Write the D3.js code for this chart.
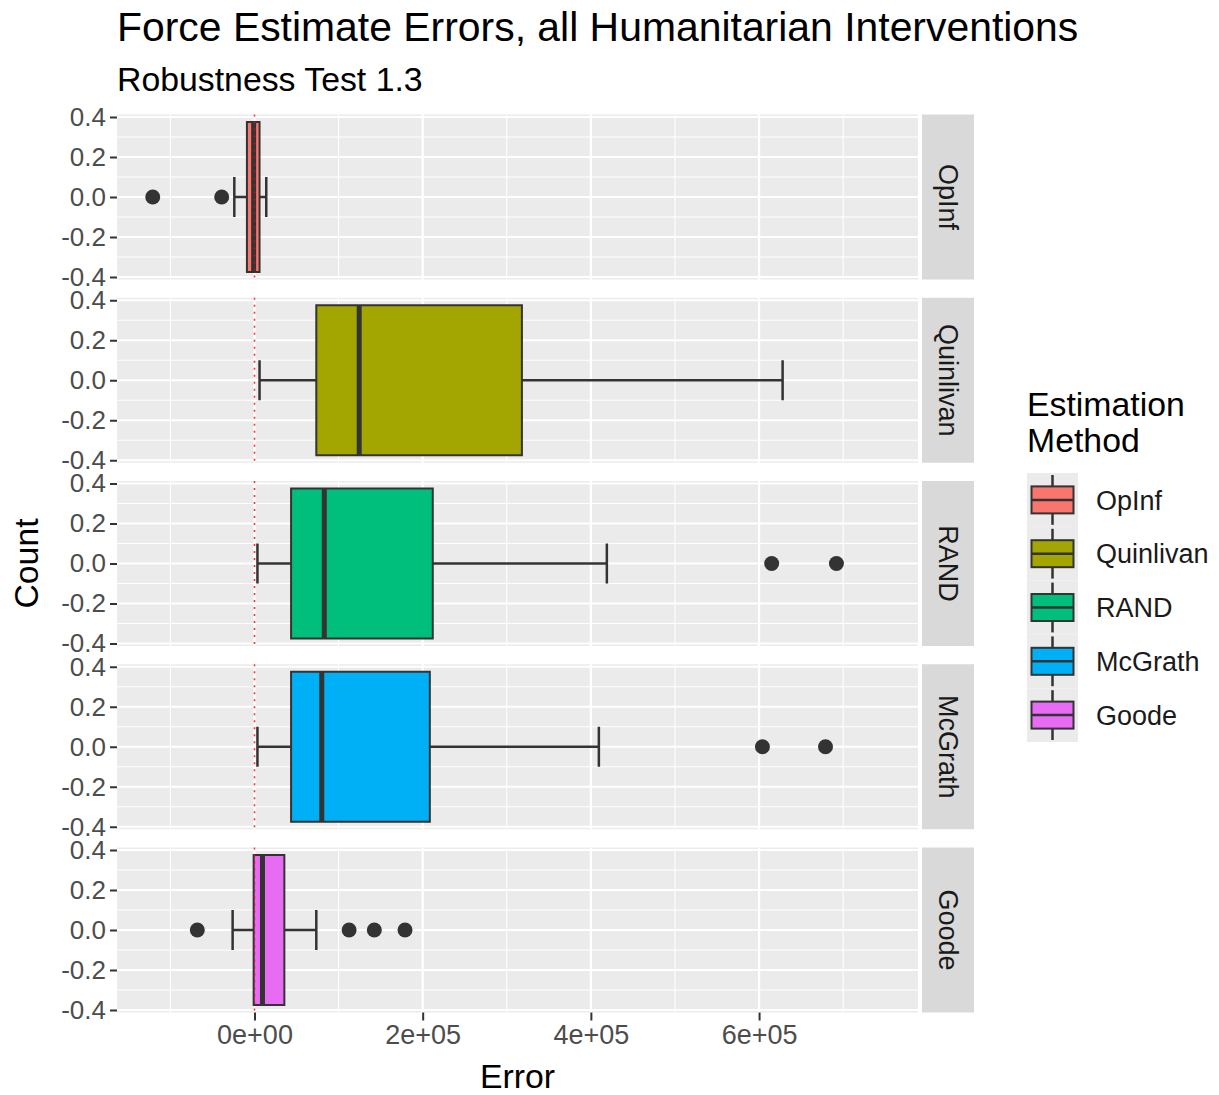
<!DOCTYPE html>
<html>
<head>
	<script src="https://d3js.org/d3.v7.min.js"></script>
	<meta charset="UTF-8">
	<style>
		body{
			margin: 0;
			background-color: #ffffff;
		}
		text{
			font-family: "Liberation Sans", Arial, sans-serif;
		}
	</style>
</head>
<body>
	<div class = 'chart'></div>
	<script type="text/javascript">
		//data
		var methods = ["OpInf", "Quinlivan", "RAND", "McGrath", "Goode"];
		var colors = ["#F8766D", "#A3A500", "#00BF7D", "#00B0F6", "#E76BF3"];
		var lowWhisker = [-24000, 6000, 3500, 3500, -26000];
		var q1 = [-9000, 73500, 43500, 43500, -1000];
		var medians = [-1000, 124500, 83000, 80000, 9500];
		var q3 = [6000, 318000, 212000, 208500, 35500];
		var highWhisker = [14000, 628000, 419000, 409500, 73500];
		var outliers = [[-121000, -39000], [], [615000, 692000], [604000, 679000], [-68000, 112500, 142500, 179000]];
		var xTicks = [0, 200000, 400000, 600000];
		var xTickLabels = ["0e+00", "2e+05", "4e+05", "6e+05"];
		var yTicks = [-0.4, -0.2, 0, 0.2, 0.4];
		var yTickLabels = ["-0.4", "-0.2", "0.0", "0.2", "0.4"];

		var W = 1219, H = 1095;
		var pl = 117, pr = 918;       //panel left/right
		var pTop = 114.5, pH = 165, pStep = 183.25;
		var stripL = 922, stripR = 974;

		var svg = d3.select("div.chart")
					.append("svg")
					.attr("width", W)
					.attr("height", H);

		var xScale = d3.scaleLinear()
						.domain([-163500, 789000])
						.range([pl, pr]);

		var yScale = d3.scaleLinear()
						.domain([-0.4125, 0.4125])
						.range([pH, 0]);

		var xMinor = [-100000, 100000, 300000, 500000, 700000];
		var yMinor = [-0.3, -0.1, 0.1, 0.3];

		methods.forEach(function(m, i){
			var g = svg.append("g").attr("transform", "translate(0," + (pTop + i*pStep) + ")");

			//panel background
			g.append("rect").attr("x", pl).attr("y", 0).attr("width", pr-pl).attr("height", pH).attr("fill", "#EBEBEB");

			//grid
			g.selectAll(".ymin").data(yMinor).enter().append("line")
				.attr("x1", pl).attr("x2", pr)
				.attr("y1", function(d){ return yScale(d); }).attr("y2", function(d){ return yScale(d); })
				.attr("stroke", "#ffffff").attr("stroke-width", 1.1);
			g.selectAll(".xmin").data(xMinor).enter().append("line")
				.attr("y1", 0).attr("y2", pH)
				.attr("x1", function(d){ return xScale(d); }).attr("x2", function(d){ return xScale(d); })
				.attr("stroke", "#ffffff").attr("stroke-width", 1.1);
			g.selectAll(".ymaj").data(yTicks).enter().append("line")
				.attr("x1", pl).attr("x2", pr)
				.attr("y1", function(d){ return yScale(d); }).attr("y2", function(d){ return yScale(d); })
				.attr("stroke", "#ffffff").attr("stroke-width", 2.2);
			g.selectAll(".xmaj").data(xTicks).enter().append("line")
				.attr("y1", 0).attr("y2", pH)
				.attr("x1", function(d){ return xScale(d); }).attr("x2", function(d){ return xScale(d); })
				.attr("stroke", "#ffffff").attr("stroke-width", 2.2);

			//y axis
			var yAxis = d3.axisLeft(yScale).tickValues(yTicks)
							.tickFormat(function(d, j){ return yTickLabels[j]; })
							.tickSize(7).tickPadding(4);
			var ya = g.append("g").attr("transform", "translate(" + pl + ",0)").call(yAxis);
			ya.select(".domain").remove();
			ya.selectAll("line").attr("stroke", "#333333").attr("stroke-width", 2);
			ya.selectAll("text").attr("fill", "#4D4D4D").style("font-size", "26px").attr("font-family", null);

			//strip
			g.append("rect").attr("x", stripL).attr("y", 0).attr("width", stripR-stripL).attr("height", pH).attr("fill", "#D9D9D9");
			g.append("text")
				.attr("transform", "translate(" + ((stripL+stripR)/2) + "," + (pH/2) + ") rotate(90)")
				.attr("text-anchor", "middle").attr("dy", "0.35em")
				.style("font-size", "27px").attr("fill", "#1A1A1A")
				.text(m);

			//whiskers
			var y0 = yScale(0);
			g.append("line").attr("x1", xScale(lowWhisker[i])).attr("x2", xScale(q1[i]))
				.attr("y1", y0).attr("y2", y0).attr("stroke", "#333333").attr("stroke-width", 2.5);
			g.append("line").attr("x1", xScale(q3[i])).attr("x2", xScale(highWhisker[i]))
				.attr("y1", y0).attr("y2", y0).attr("stroke", "#333333").attr("stroke-width", 2.5);
			[lowWhisker[i], highWhisker[i]].forEach(function(v){
				g.append("line").attr("x1", xScale(v)).attr("x2", xScale(v))
					.attr("y1", yScale(0.1)).attr("y2", yScale(-0.1))
					.attr("stroke", "#333333").attr("stroke-width", 2.5);
			});

			//box
			g.append("rect")
				.attr("x", xScale(q1[i])).attr("y", yScale(0.375))
				.attr("width", xScale(q3[i]) - xScale(q1[i]))
				.attr("height", yScale(-0.375) - yScale(0.375))
				.attr("fill", colors[i]).attr("stroke", "#333333").attr("stroke-width", 2);
			g.append("line").attr("x1", xScale(medians[i])).attr("x2", xScale(medians[i]))
				.attr("y1", yScale(0.375)).attr("y2", yScale(-0.375))
				.attr("stroke", "#333333").attr("stroke-width", 5);

			//outliers
			g.selectAll(".out").data(outliers[i]).enter().append("circle")
				.attr("cx", function(d){ return xScale(d); })
				.attr("cy", y0).attr("r", 7.5).attr("fill", "#333333");

			//reference line at zero
			g.append("line").attr("x1", xScale(0)).attr("x2", xScale(0))
				.attr("y1", 0).attr("y2", pH)
				.attr("stroke", "#FF0000").attr("stroke-width", 1.6)
				.attr("stroke-dasharray", "2,5").attr("opacity", 0.8);
		});

		//x axis on the bottom panel
		var xAxis = d3.axisBottom(xScale).tickValues(xTicks)
						.tickFormat(function(d, j){ return xTickLabels[j]; })
						.tickSize(8).tickPadding(4);
		var xa = svg.append("g").attr("transform", "translate(0," + (pTop + 4*pStep + pH) + ")").call(xAxis);
		xa.select(".domain").remove();
		xa.selectAll("line").attr("stroke", "#333333").attr("stroke-width", 2);
		xa.selectAll("text").attr("fill", "#4D4D4D").style("font-size", "27px").attr("font-family", null);

		//axis titles
		svg.append("text").attr("x", (pl+pr)/2).attr("y", 1088).attr("text-anchor", "middle")
			.style("font-size", "33.8px").attr("fill", "#000").text("Error");
		svg.append("text").attr("transform", "translate(38," + (pTop + (4*pStep + pH)/2) + ") rotate(-90)")
			.attr("text-anchor", "middle").style("font-size", "33.8px").attr("fill", "#000").text("Count");

		//titles
		svg.append("text").attr("x", pl).attr("y", 41).style("font-size", "40.9px").attr("fill", "#000")
			.text("Force Estimate Errors, all Humanitarian Interventions");
		svg.append("text").attr("x", pl).attr("y", 91).style("font-size", "33.8px").attr("fill", "#000")
			.text("Robustness Test 1.3");

		//legend
		var lx = 1027, ly = 473, kw = 51, kh = 53.8;
		svg.append("text").attr("x", lx).attr("y", 416).style("font-size", "33.8px").attr("fill", "#000").text("Estimation");
		svg.append("text").attr("x", lx).attr("y", 452).style("font-size", "33.8px").attr("fill", "#000").text("Method");
		methods.forEach(function(m, i){
			var ky = ly + i*kh;
			var cx = lx + kw/2, cy = ky + kh/2;
			svg.append("rect").attr("x", lx).attr("y", ky).attr("width", kw).attr("height", kh).attr("fill", "#EBEBEB");
			svg.append("line").attr("x1", cx).attr("x2", cx).attr("y1", ky + 2).attr("y2", ky + kh - 2)
				.attr("stroke", "#333333").attr("stroke-width", 2.5);
			svg.append("rect").attr("x", lx + 4.5).attr("y", cy - 13.5).attr("width", kw - 9).attr("height", 27)
				.attr("fill", colors[i]).attr("stroke", "#333333").attr("stroke-width", 2);
			svg.append("line").attr("x1", lx + 4.5).attr("x2", lx + kw - 4.5).attr("y1", cy).attr("y2", cy)
				.attr("stroke", "#333333").attr("stroke-width", 2.5);
			svg.append("text").attr("x", 1096).attr("y", cy).attr("dy", "0.36em")
				.style("font-size", "27px").attr("fill", "#1A1A1A").text(m);
		});
	</script>
</body>
</html>
